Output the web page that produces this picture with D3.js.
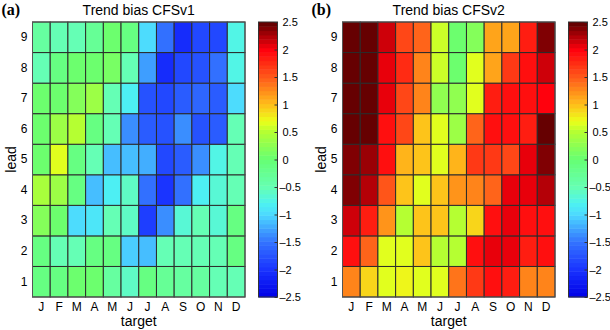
<!DOCTYPE html>
<html>
<head>
<meta charset="utf-8">
<script src="https://cdn.jsdelivr.net/npm/d3@7"></script>
<style>
  body { margin: 0; background: #fff; }
</style>
</head>
<body>
<div id="chart"></div>
<script>
// months (target) and leads
var months = ["J","F","M","A","M","J","J","A","S","O","N","D"];
var leads = [1,2,3,4,5,6,7,8,9];
var cbTicks = [-2.5,-2,-1.5,-1,-0.5,0,0.5,1,1.5,2,2.5];

// trend bias, rows = lead 1..9, columns = J..D
var biasV1 = [
  [-0.12,-0.12, 0, 0.06,-0.38,-0.58,-0.12,-0.25,-0.38,-0.38,-0.54,-0.5],
  [-0.12,-0.54,-0.54,-0.12,-0.12,-1.06,-1.17,-0.5,-0.5,-0.5,-0.54,-0.12],
  [ 0.19, 0,-1.0,-0.88,-0.5,-0.58,-1.9,-1.33,-0.69,-0.54,-0.69,-0.12],
  [ 0.44, 0.38,-0.12,-1.17,-0.85,-0.58,-1.5,-2.0,-1.5,-0.85,-0.69,-0.54],
  [ 0, 0.65,-0.12,-0.5,-1.17,-1.11,-1.22,-1.85,-1.65,-1.39,-0.77,-0.5],
  [ 0, 0.38, 0.5,-0.12,-0.5,-1.39,-1.65,-1.75,-1.39,-1.75,-1.65,-0.54],
  [ 0, 0, 0.19, 0.38,-0.5,-0.85,-1.75,-1.85,-1.65,-1.6,-1.65,-1.0],
  [-0.5,-0.12, 0, 0, 0.12,-0.54,-1.28,-2.1,-1.8,-1.75,-1.55,-0.77],
  [-0.38,-0.5,-0.5,-0.25, 0,-0.12,-1.0,-1.5,-2.05,-1.8,-1.8,-0.77]
];
var biasV2 = [
  [1.32, 0.9, 0.7, 0.75, 0.65, 0.65, 1.36, 1.7, 1.9, 1.8, 1.32, 1.27],
  [1.9, 1.45, 0.7, 0.7, 0.95, 0.5, 0.5, 1.9, 2.1, 2.05, 1.85, 1.9],
  [2.15, 1.8, 1.18, 0.5, 0.95, 0.95, 0.5, 0.9, 1.95, 2.1, 1.95, 1.95],
  [2.42, 2.25, 1.5, 0.95, 0.65, 0.95, 1.18, 1.27, 1.45, 2.05, 2.05, 2.2],
  [2.42, 2.33, 1.9, 1.09, 0.95, 0.65, 1.09, 1.65, 1.65, 1.6, 2.05, 2.38],
  [2.45, 2.45, 1.9, 1.6, 0.95, 0.65, 0.38, 1.45, 1.95, 1.9, 1.8, 2.45],
  [2.45, 2.45, 2.05, 1.6, 1.27, 0.31, 0.31, 0.7, 1.8, 1.95, 1.9, 2.0],
  [2.45, 2.45, 2.05, 1.75, 1.27, 0.55, 0, 0.7, 1.14, 1.7, 1.95, 2.15],
  [2.45, 2.45, 2.15, 1.6, 1.45, 0.55, 0, 0.19, 1.14, 1.14, 1.8, 2.38]
];

// colormap stops
var cmapStops = [-2.5, -2, -1.5, -1, -0.8, -0.5, 0, 0.5, 0.7, 1, 1.5, 2, 2.5];
var cmapColors = ["#0000e6", "#1a33ff", "#3373ff", "#4dd9ff", "#4df2f2", "#66ffb3",
                  "#66ff73", "#b3ff33", "#ebff1a", "#ffbf1a", "#ff591a", "#ff000d", "#590000"];
var smooth = d3.scaleLinear().domain(cmapStops).range(cmapColors).interpolate(d3.interpolateRgb);
var levels = d3.range(64).map(function (i) { return smooth(-2.5 + (i + 0.5) * 5 / 64); });
var color = d3.scaleQuantize().domain([-2.5, 2.5]).range(levels);

var W = 610, H = 330;
var sans = "Liberation Sans, Arial, sans-serif";
var svg = d3.select("#chart").append("svg")
  .attr("width", W).attr("height", H)
  .style("font-family", sans);

function panel(data, left, label, title) {
  var width = 212.5, height = 275, top = 22;
  var g = svg.append("g").attr("transform", "translate(" + left + "," + top + ")");

  var x = d3.scaleBand().domain(d3.range(months.length)).range([0, width]);
  var y = d3.scaleBand().domain(leads).range([height, 0]);

  var cells = [];
  data.forEach(function (row, i) {
    row.forEach(function (v, j) { cells.push({lead: leads[i], m: j, v: v}); });
  });

  g.selectAll("rect.cell")
    .data(cells)
    .enter()
    .append("rect")
      .attr("class", "cell")
      .attr("x", function (d) { return x(d.m); })
      .attr("y", function (d) { return y(d.lead); })
      .attr("width", x.bandwidth())
      .attr("height", y.bandwidth())
      .attr("fill", function (d) { return color(d.v); })
      .attr("stroke", "#2b2b2b")
      .attr("stroke-width", 1);

  g.append("rect")
    .attr("width", width).attr("height", height)
    .attr("fill", "none").attr("stroke", "#555").attr("stroke-width", 1);

  // x axis
  var xa = g.append("g")
    .attr("transform", "translate(0," + height + ")")
    .call(d3.axisBottom(x).tickSize(0).tickPadding(5).tickFormat(function (i) { return months[i]; }));
  xa.select(".domain").remove();
  xa.selectAll("text").attr("font-size", 12).attr("fill", "#000").attr("font-family", sans);

  // y axis
  var ya = g.append("g")
    .call(d3.axisLeft(y).tickSize(0).tickPadding(5));
  ya.select(".domain").remove();
  ya.selectAll("text").attr("font-size", 12).attr("fill", "#000").attr("font-family", sans);

  g.append("text")
    .attr("x", width / 2).attr("y", -7)
    .attr("text-anchor", "middle")
    .attr("font-size", 14)
    .text(title);

  g.append("text")
    .attr("x", width / 2).attr("y", height + 29)
    .attr("text-anchor", "middle")
    .attr("font-size", 14)
    .text("target");

  g.append("text")
    .attr("transform", "translate(-17," + (height / 2) + ") rotate(-90)")
    .attr("text-anchor", "middle")
    .attr("font-size", 14)
    .text("lead");

  svg.append("text")
    .attr("x", left - 31).attr("y", 15)
    .style("font-family", "Liberation Serif, Times New Roman, serif")
    .attr("font-weight", "bold")
    .attr("font-size", 16)
    .text(label);

  // colorbar
  var cbx = width + 13.5, cbw = 19;
  var cy = d3.scaleLinear().domain([-2.5, 2.5]).range([height, 0]);
  var cb = g.append("g").attr("transform", "translate(" + cbx + ",0)");
  cb.selectAll("rect.lvl")
    .data(levels)
    .enter()
    .append("rect")
      .attr("class", "lvl")
      .attr("x", 0)
      .attr("y", function (c, i) { return cy(-2.5 + (i + 1) * 5 / 64); })
      .attr("width", cbw)
      .attr("height", function (c, i) { return cy(-2.5 + i * 5 / 64) - cy(-2.5 + (i + 1) * 5 / 64) + 0.5; })
      .attr("fill", function (c) { return c; });
  cb.append("rect")
    .attr("width", cbw).attr("height", height)
    .attr("fill", "none").attr("stroke", "#333").attr("stroke-width", 1);
  var ca = cb.append("g")
    .attr("transform", "translate(" + cbw + ",0)")
    .call(d3.axisRight(cy).tickValues(cbTicks).tickSizeInner(-3).tickSizeOuter(0).tickPadding(5)
      .tickFormat(function (d) { return d < 0 ? "\u2013" + Math.abs(d) : String(d); }));
  ca.select(".domain").remove();
  ca.selectAll("line").attr("stroke", "#333");
  ca.selectAll("text").attr("font-size", 11).attr("fill", "#000").attr("font-family", sans)
    .attr("dx", function (d) { return d < 0 ? -3 : 0; });
}

panel(biasV1, 32.5, "(a)", "Trend bias CFSv1");
panel(biasV2, 342.5, "(b)", "Trend bias CFSv2");
</script>
</body>
</html>
